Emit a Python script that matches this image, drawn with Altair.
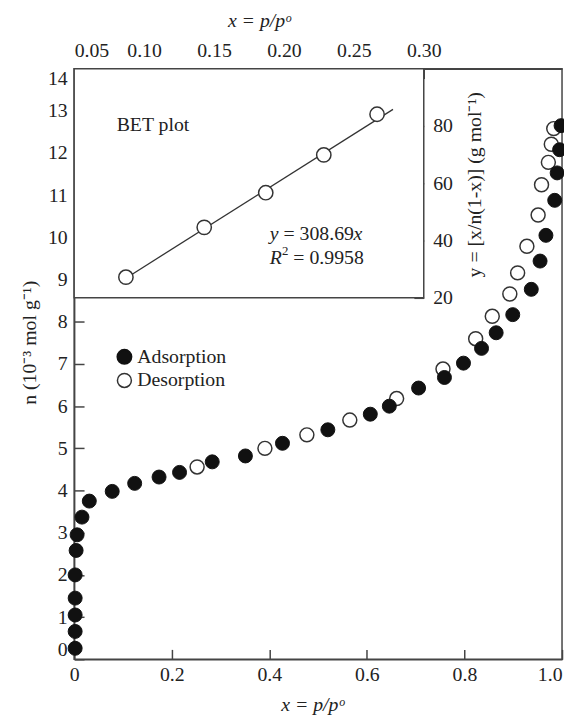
import altair as alt
import pandas as pd

# ---------------- data ----------------
ads_x = [0.002, 0.002, 0.002, 0.002, 0.002, 0.004, 0.006, 0.016, 0.031, 0.078,
         0.124, 0.174, 0.216, 0.283, 0.351, 0.427, 0.520, 0.607, 0.646, 0.706,
         0.759, 0.798, 0.835, 0.865, 0.899, 0.937, 0.955, 0.967, 0.985, 0.990,
         0.995, 0.998]
ads_n = [0.26, 0.66, 1.05, 1.45, 2.00, 2.58, 2.95, 3.37, 3.75, 3.98,
         4.17, 4.32, 4.43, 4.68, 4.82, 5.12, 5.44, 5.81, 6.00, 6.43,
         6.68, 7.02, 7.37, 7.74, 8.17, 8.77, 9.44, 10.05, 10.88, 11.53,
         12.08, 12.65]
des_x = [0.252, 0.391, 0.477, 0.565, 0.661, 0.756, 0.823, 0.857, 0.893, 0.909,
         0.928, 0.951, 0.958, 0.972, 0.978, 0.983]
des_n = [4.56, 5.00, 5.32, 5.67, 6.18, 6.88, 7.60, 8.13, 8.66, 9.16,
         9.79, 10.53, 11.25, 11.78, 12.21, 12.58]

bet_x = [0.087, 0.143, 0.187, 0.2285, 0.2666]
bet_y = [27.2, 44.6, 56.7, 69.9, 84.1]
bet_slope = 308.69
fit_x = [0.087, 0.278]

x_ticks = [0, 0.2, 0.4, 0.6, 0.8, 1.0]
n_ticks = list(range(0, 15))
top_ticks = [0.05, 0.10, 0.15, 0.20, 0.25, 0.30]
right_ticks = [20, 40, 60, 80]

legend_labels = ["Adsorption", "Desorption"]
legend_x = [0.103, 0.103]
legend_n = [7.17, 6.61]

inset_x_box = [0.05, 0.30]
inset_y_box = [20, 100]

# ---------------- layout ----------------
W, H = 494, 598
INSET_W, INSET_H = 354, 232
xi_max = inset_x_box[0] + (inset_x_box[1] - inset_x_box[0]) * W / INSET_W
yi_min = inset_y_box[1] - (inset_y_box[1] - inset_y_box[0]) * H / INSET_H

FONT = "Liberation Serif"
INK = "#222222"
LINE = "#444444"
TICK_IN = {"expr": "-10"}

main_df = pd.DataFrame({"x": ads_x + des_x,
                        "n": ads_n + des_n,
                        "series": ["Adsorption"] * len(ads_x) + ["Desorption"] * len(des_x)})
leg_df = pd.DataFrame({"x": legend_x, "n": legend_n, "label": legend_labels})
bet_df = pd.DataFrame({"bx": bet_x, "by": bet_y})
fit_df = pd.DataFrame({"bx": fit_x, "by": [bet_slope * v for v in fit_x]})
box_df = pd.DataFrame({"bx": [inset_x_box[0]], "bx2": [inset_x_box[1]],
                       "by": [inset_y_box[0]], "by2": [inset_y_box[1]]})

x_axis = alt.Axis(orient="bottom", values=x_ticks,
                  labelExpr="datum.value == 0 ? '0' : format(datum.value, '.1f')",
                  labelAlign={"condition": {"test": "datum.value >= 0.99", "value": "right"}, "value": "center"},
                  tickSize=TICK_IN, labelPadding=16,
                  title="x = p/pᵒ", titleFontStyle="italic",
                  titleX=241, titleY=46, titleBaseline="middle", titleAlign="center")
y_axis = alt.Axis(orient="left", values=n_ticks, format="d", labelFlush=True,
                  tickSize=TICK_IN, labelPadding=17,
                  title="n (10⁻³ mol g⁻¹)", titleAngle=270,
                  titleX=-45, titleY=277, titleBaseline="middle", titleAlign="center")
X = lambda f: alt.X(f"{f}:Q", scale=alt.Scale(domain=[0, 1], nice=False, zero=False), axis=x_axis)
Y = lambda f: alt.Y(f"{f}:Q", scale=alt.Scale(domain=[0, 14], nice=False, zero=False), axis=y_axis)

xi_axis = alt.Axis(orient="top", values=top_ticks, format=".2f",
                   labelAlign={"condition": {"test": "datum.value < 0.07", "value": "left"}, "value": "center"},
                   tickSize=TICK_IN, labelPadding=18,
                   title="x = p/pᵒ", titleFontStyle="italic",
                   titleX=187, titleY=-49, titleBaseline="middle", titleAlign="center")
yi_axis = alt.Axis(orient="right", offset=-(W - INSET_W), values=right_ticks, domain=False,
                   tickSize=TICK_IN, labelPadding=19,
                   title="y = [x/n(1-x)] (g mol⁻¹)", titleAngle=270,
                   titleX=51, titleY=117, titleBaseline="middle", titleAlign="center")
XI = lambda f: alt.X(f"{f}:Q", scale=alt.Scale(domain=[inset_x_box[0], xi_max], nice=False, zero=False), axis=xi_axis)
YI = lambda f: alt.Y(f"{f}:Q", scale=alt.Scale(domain=[yi_min, inset_y_box[1]], nice=False, zero=False), axis=yi_axis)

# ---------------- main isotherm ----------------
des_layer = alt.Chart(main_df).transform_filter("datum.series == 'Desorption'").mark_point(
    shape="circle", filled=True, fill="white", stroke="#333333", strokeWidth=1.5, size=200, opacity=1
).encode(x=X("x"), y=Y("n"))
ads_layer = alt.Chart(main_df).transform_filter("datum.series == 'Adsorption'").mark_point(
    shape="circle", filled=True, fill="#111111", stroke="#111111", strokeWidth=1, size=200, opacity=1
).encode(x=X("x"), y=Y("n"))

leg_fill = alt.Chart(leg_df).transform_filter("datum.label == 'Adsorption'").mark_point(
    shape="circle", filled=True, fill="#111111", stroke="#111111", size=200, opacity=1
).encode(x=X("x"), y=Y("n"))
leg_open = alt.Chart(leg_df).transform_filter("datum.label == 'Desorption'").mark_point(
    shape="circle", filled=True, fill="white", stroke="#333333", strokeWidth=1.5, size=200, opacity=1
).encode(x=X("x"), y=Y("n"))
leg_text = alt.Chart(leg_df).mark_text(
    align="left", baseline="middle", dx=13, font=FONT, fontSize=20, color=INK
).encode(x=X("x"), y=Y("n"), text="label:N")

main = alt.layer(des_layer, ads_layer, leg_fill, leg_open, leg_text)

# ---------------- BET inset ----------------
box = alt.Chart(box_df).mark_rect(fill="white", stroke=LINE, strokeWidth=1.5).encode(
    x=XI("bx"), x2="bx2:Q", y=YI("by"), y2="by2:Q")
fit = alt.Chart(fit_df).mark_line(color="#333333", strokeWidth=1.3).encode(x=XI("bx"), y=YI("by"))
pts = alt.Chart(bet_df).mark_point(
    shape="circle", filled=True, fill="white", stroke="#333333", strokeWidth=1.5, size=210, opacity=1
).encode(x=XI("bx"), y=YI("by"))

def label(bx, by, text, dx=0, dy=0, size=20, style="normal"):
    d = pd.DataFrame({"bx": [bx], "by": [by], "t": [text]})
    return alt.Chart(d).mark_text(align="left", baseline="middle", dx=dx, dy=dy, font=FONT,
                                  fontSize=size, fontStyle=style, color=INK).encode(
        x=XI("bx"), y=YI("by"), text="t:N")

eq_x, eq_y1, eq_y2 = 0.1898, 42.1, 33.8
texts = [
    label(0.0804, 80.3, "BET plot"),
    label(eq_x, eq_y1, "y", style="italic"),
    label(eq_x, eq_y1, "= 308.69", dx=14),
    label(eq_x, eq_y1, "x", dx=85, style="italic"),
    label(eq_x, eq_y2, "R", style="italic"),
    label(eq_x, eq_y2, "2", dx=12.5, dy=-7, size=13),
    label(eq_x, eq_y2, "= 0.9958", dx=24),
]
inset = alt.layer(box, fit, pts, *texts)

chart = alt.layer(main, inset).resolve_scale(x="independent", y="independent").properties(
    width=W, height=H,
    autosize=alt.AutoSizeParams(type="none"),
    padding={"left": 67, "top": 57, "right": 2, "bottom": 56},
).configure_view(stroke=LINE, strokeWidth=1.5).configure_axis(
    labelFont=FONT, labelFontSize=20, labelColor=INK,
    titleFont=FONT, titleFontSize=20, titleFontWeight="normal", titleColor=INK,
    domainColor=LINE, domainWidth=1.5, tickColor=LINE, tickWidth=1.5,
    grid=False, zindex=1,
)

chart.save("out.html", embed_options={"renderer": "svg", "actions": False})
